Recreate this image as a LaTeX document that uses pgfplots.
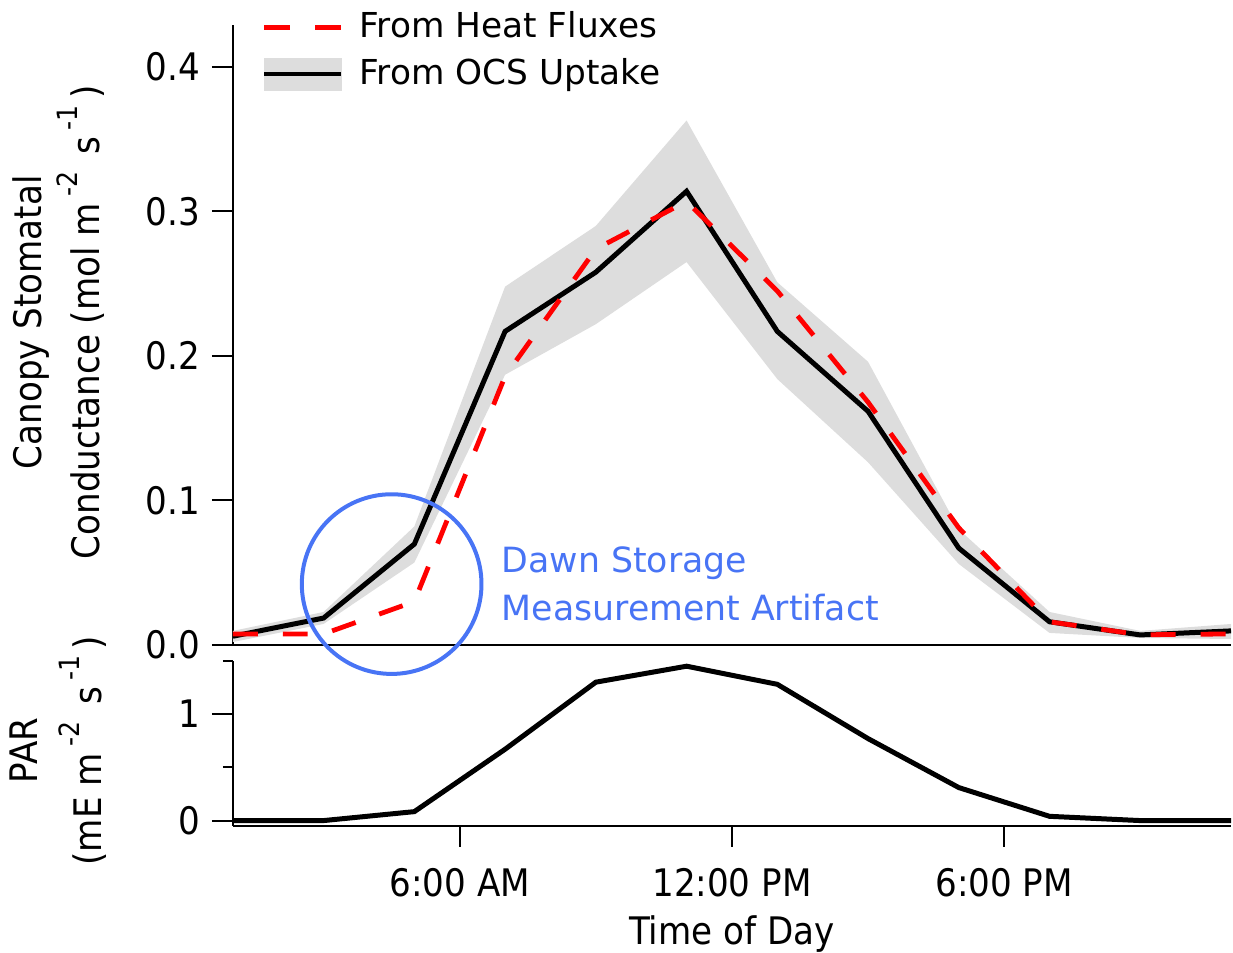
\documentclass[border=0pt]{standalone}
\usepackage{fontspec}
\setmainfont{DejaVu Sans}
\newfontfamily\axfont[FakeStretch=0.9]{DejaVu Sans}
\usepackage{pgfplots}
\usepackage{pgfplotstable}
\pgfplotsset{compat=1.18}
\usepgfplotslibrary{fillbetween}

\definecolor{bandgray}{RGB}{221,221,221}
\definecolor{annblue}{RGB}{72,116,245}
\newcommand{\fs}{\fontsize{17.2}{20.6}\selectfont}
\newcommand{\afs}{\fontsize{19}{22.8}\axfont}
\newcommand{\sups}[1]{\raisebox{11pt}[0pt][0pt]{\fontsize{14}{14}\axfont #1}}

% hour of day, OCS conductance with its band, heat-flux conductance, PAR
\pgfplotstableread{
t  ocs    lo     hi     heat   par
1  0.0060 0.0020 0.0097 0.0076 0.00
3  0.0186 0.0145 0.0228 0.0076 0.00
5  0.0698 0.0570 0.0820 0.0300 0.084
7  0.2170 0.1870 0.2480 0.1860 0.67
9  0.2580 0.2220 0.2900 0.2740 1.30
11 0.3140 0.2650 0.3630 0.3070 1.45
13 0.2170 0.1840 0.2510 0.2450 1.28
15 0.1617 0.1264 0.1960 0.1680 0.77
17 0.0670 0.0560 0.0800 0.0810 0.31
19 0.0160 0.0083 0.0228 0.0160 0.04
21 0.0069 0.0048 0.0097 0.0070 0.00
23 0.0097 0.0041 0.0145 0.0076 0.00
}\datatable

\begin{document}
\fs
\begin{tikzpicture}
\pgfplotsset{
  every axis/.append style={
    scale only axis, width=500pt,
    xmin=1, xmax=23,
    axis x line*=bottom, axis y line*=left,
    axis line style={line width=1pt, -},
    tick align=outside, major tick length=10.5pt, minor tick length=5pt,
    tick style={line width=1pt, black},
    tick label style={font=\afs},
    label style={font=\afs},
  },
}
% upper panel: canopy conductance
\begin{axis}[
  at={(0,0)}, anchor=south west,
  height=310.75pt,
  ymin=0, ymax=0.4294,
  xtick=\empty,
  ytick={0,0.1,0.2,0.3,0.4}, yticklabels={0.0,0.1,0.2,0.3,0.4},
  clip mode=individual,
  ylabel={Canopy Stomatal\\[6.2pt]Conductance (mol m\,\sups{-2}\, s\,\sups{-1}\,)},
  ylabel style={align=center, at={(axis description cs:-0.115,0.52)}, anchor=south,
    inner xsep=0pt, inner ysep=6.5pt},
  legend cell align=left,
  legend style={draw=none, fill=none, font=\fs,
    at={(axis description cs:0,1)}, anchor=north west, xshift=11.2pt, yshift=12.5pt,
    inner ysep=3.8pt, row sep=3.8pt, column sep=6pt},
]
\addlegendimage{legend image code/.code={
  \draw[red, line width=2.5pt, dash pattern=on 13pt off 12.5pt] (0pt,0pt) -- (38.5pt,0pt);}}
\addlegendentry{From Heat Fluxes}
\addlegendimage{legend image code/.code={
  \fill[bandgray] (0pt,-8pt) rectangle (38.5pt,8pt);
  \draw[black, line width=2.5pt] (0pt,0pt) -- (38.5pt,0pt);}}
\addlegendentry{From OCS Uptake}

\addplot[draw=none, name path=hi, forget plot] table[x=t, y=hi] {\datatable};
\addplot[draw=none, name path=lo, forget plot] table[x=t, y=lo] {\datatable};
\addplot[bandgray, forget plot] fill between[of=hi and lo];
\addplot[black, line width=2.5pt, forget plot] table[x=t, y=ocs] {\datatable};
\addplot[red, line width=2.4pt, dash pattern=on 12.5pt off 12.5pt, forget plot] table[x=t, y=heat] {\datatable};

\draw[annblue, line width=2pt] (axis cs:4.5,0.0421) circle[radius=45pt];
\node[annblue, font=\fontsize{17.4}{24}\selectfont, align=left, anchor=north west, inner sep=0pt]
  at (axis cs:6.918,0.0684) {Dawn Storage\\Measurement Artifact};
\end{axis}

% lower panel: PAR
\begin{axis}[
  at={(0,-8pt)}, anchor=north west,
  height=82.5pt,
  ymin=-0.047, ymax=1.5,
  xtick={6,12,18}, xticklabels={6:00 AM,12:00 PM,6:00 PM},
  xticklabel style={anchor=base, yshift=-25pt},
  ytick={0,1}, yticklabels={0,1}, minor ytick={0.5,1.5},
  xlabel={Time of Day},
  xlabel style={at={(axis description cs:0.5,0)}, anchor=base, yshift=-59.5pt, inner sep=0pt},
  ylabel={PAR\\[9.2pt](mE m\,\sups{-2}\, s\,\sups{-1}\,)},
  ylabel style={align=center, at={(axis description cs:-0.116,0.455)}, anchor=south,
    inner xsep=0pt, inner ysep=5pt},
]
\addplot[black, line width=2.5pt] table[x=t, y=par] {\datatable};
\end{axis}
\end{tikzpicture}
\end{document}
